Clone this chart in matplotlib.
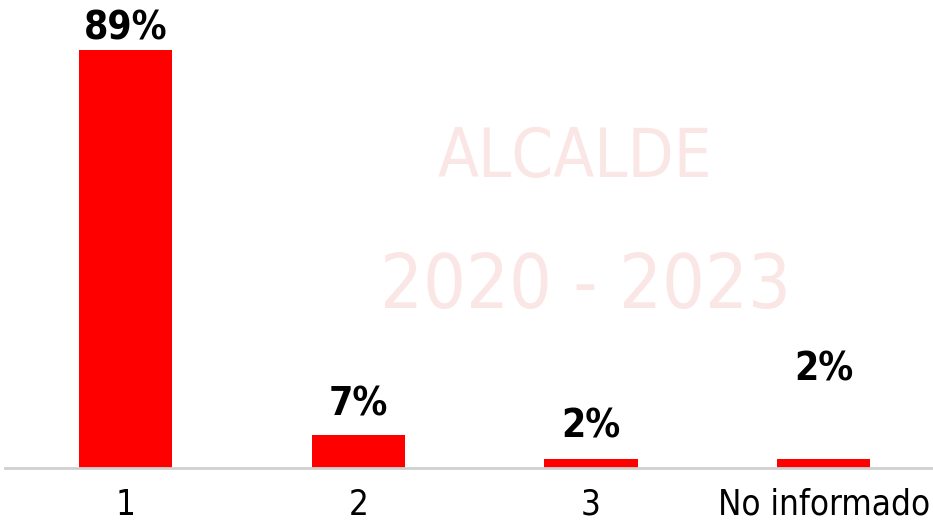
import numpy as np
import matplotlib.pyplot as plt

categorias = ['1', '2', '3', 'No informado']
valores = [89, 7, 2, 2]
etiquetas = ['89%', '7%', '2%', '2%']

fuente = ['DejaVu Sans']

fig = plt.figure(figsize=(9.33, 5.23), dpi=100)
ax = fig.add_axes([0.005, 0.105, 0.995, 0.895])

# marca de agua de fondo
fig.text(0.616, 0.697, 'ALCALDE', ha='center', va='center', fontsize=48,
         family=fuente, stretch='condensed', weight='light', color='#fbe6e6', zorder=0)
fig.text(0.627, 0.45, '2020 - 2023', ha='center', va='center', fontsize=54,
         family=fuente, stretch='condensed', weight='light', color='#fbe6e6', zorder=0)

x = np.arange(len(categorias))
barras = ax.bar(x, valores, width=0.4, color='#ff0000', zorder=2)

# desplazamiento de cada etiqueta sobre su barra (pixeles)
despl = [2, 12, 13, 70]
for b, et, d in zip(barras, etiquetas, despl):
    ax.annotate(et, (b.get_x() + b.get_width() / 2, b.get_height()),
                xytext=(0, d), textcoords='offset pixels',
                ha='center', va='bottom', fontsize=28, fontweight='bold',
                family=fuente, stretch='condensed', color='black')

ax.set_xlim(-0.52, 3.47)
ax.set_ylim(0, 99.6)
ax.set_xticks(x)
ax.set_xticklabels(categorias, fontsize=25, family=fuente, stretch='condensed')
ax.tick_params(axis='x', length=0, pad=14)
ax.set_yticks([])
for s in ['top', 'right', 'left']:
    ax.spines[s].set_visible(False)
ax.spines['bottom'].set_color('#d0d0d0')
ax.spines['bottom'].set_linewidth(2)
ax.patch.set_alpha(0)

fig.savefig('out.png', dpi=100)
